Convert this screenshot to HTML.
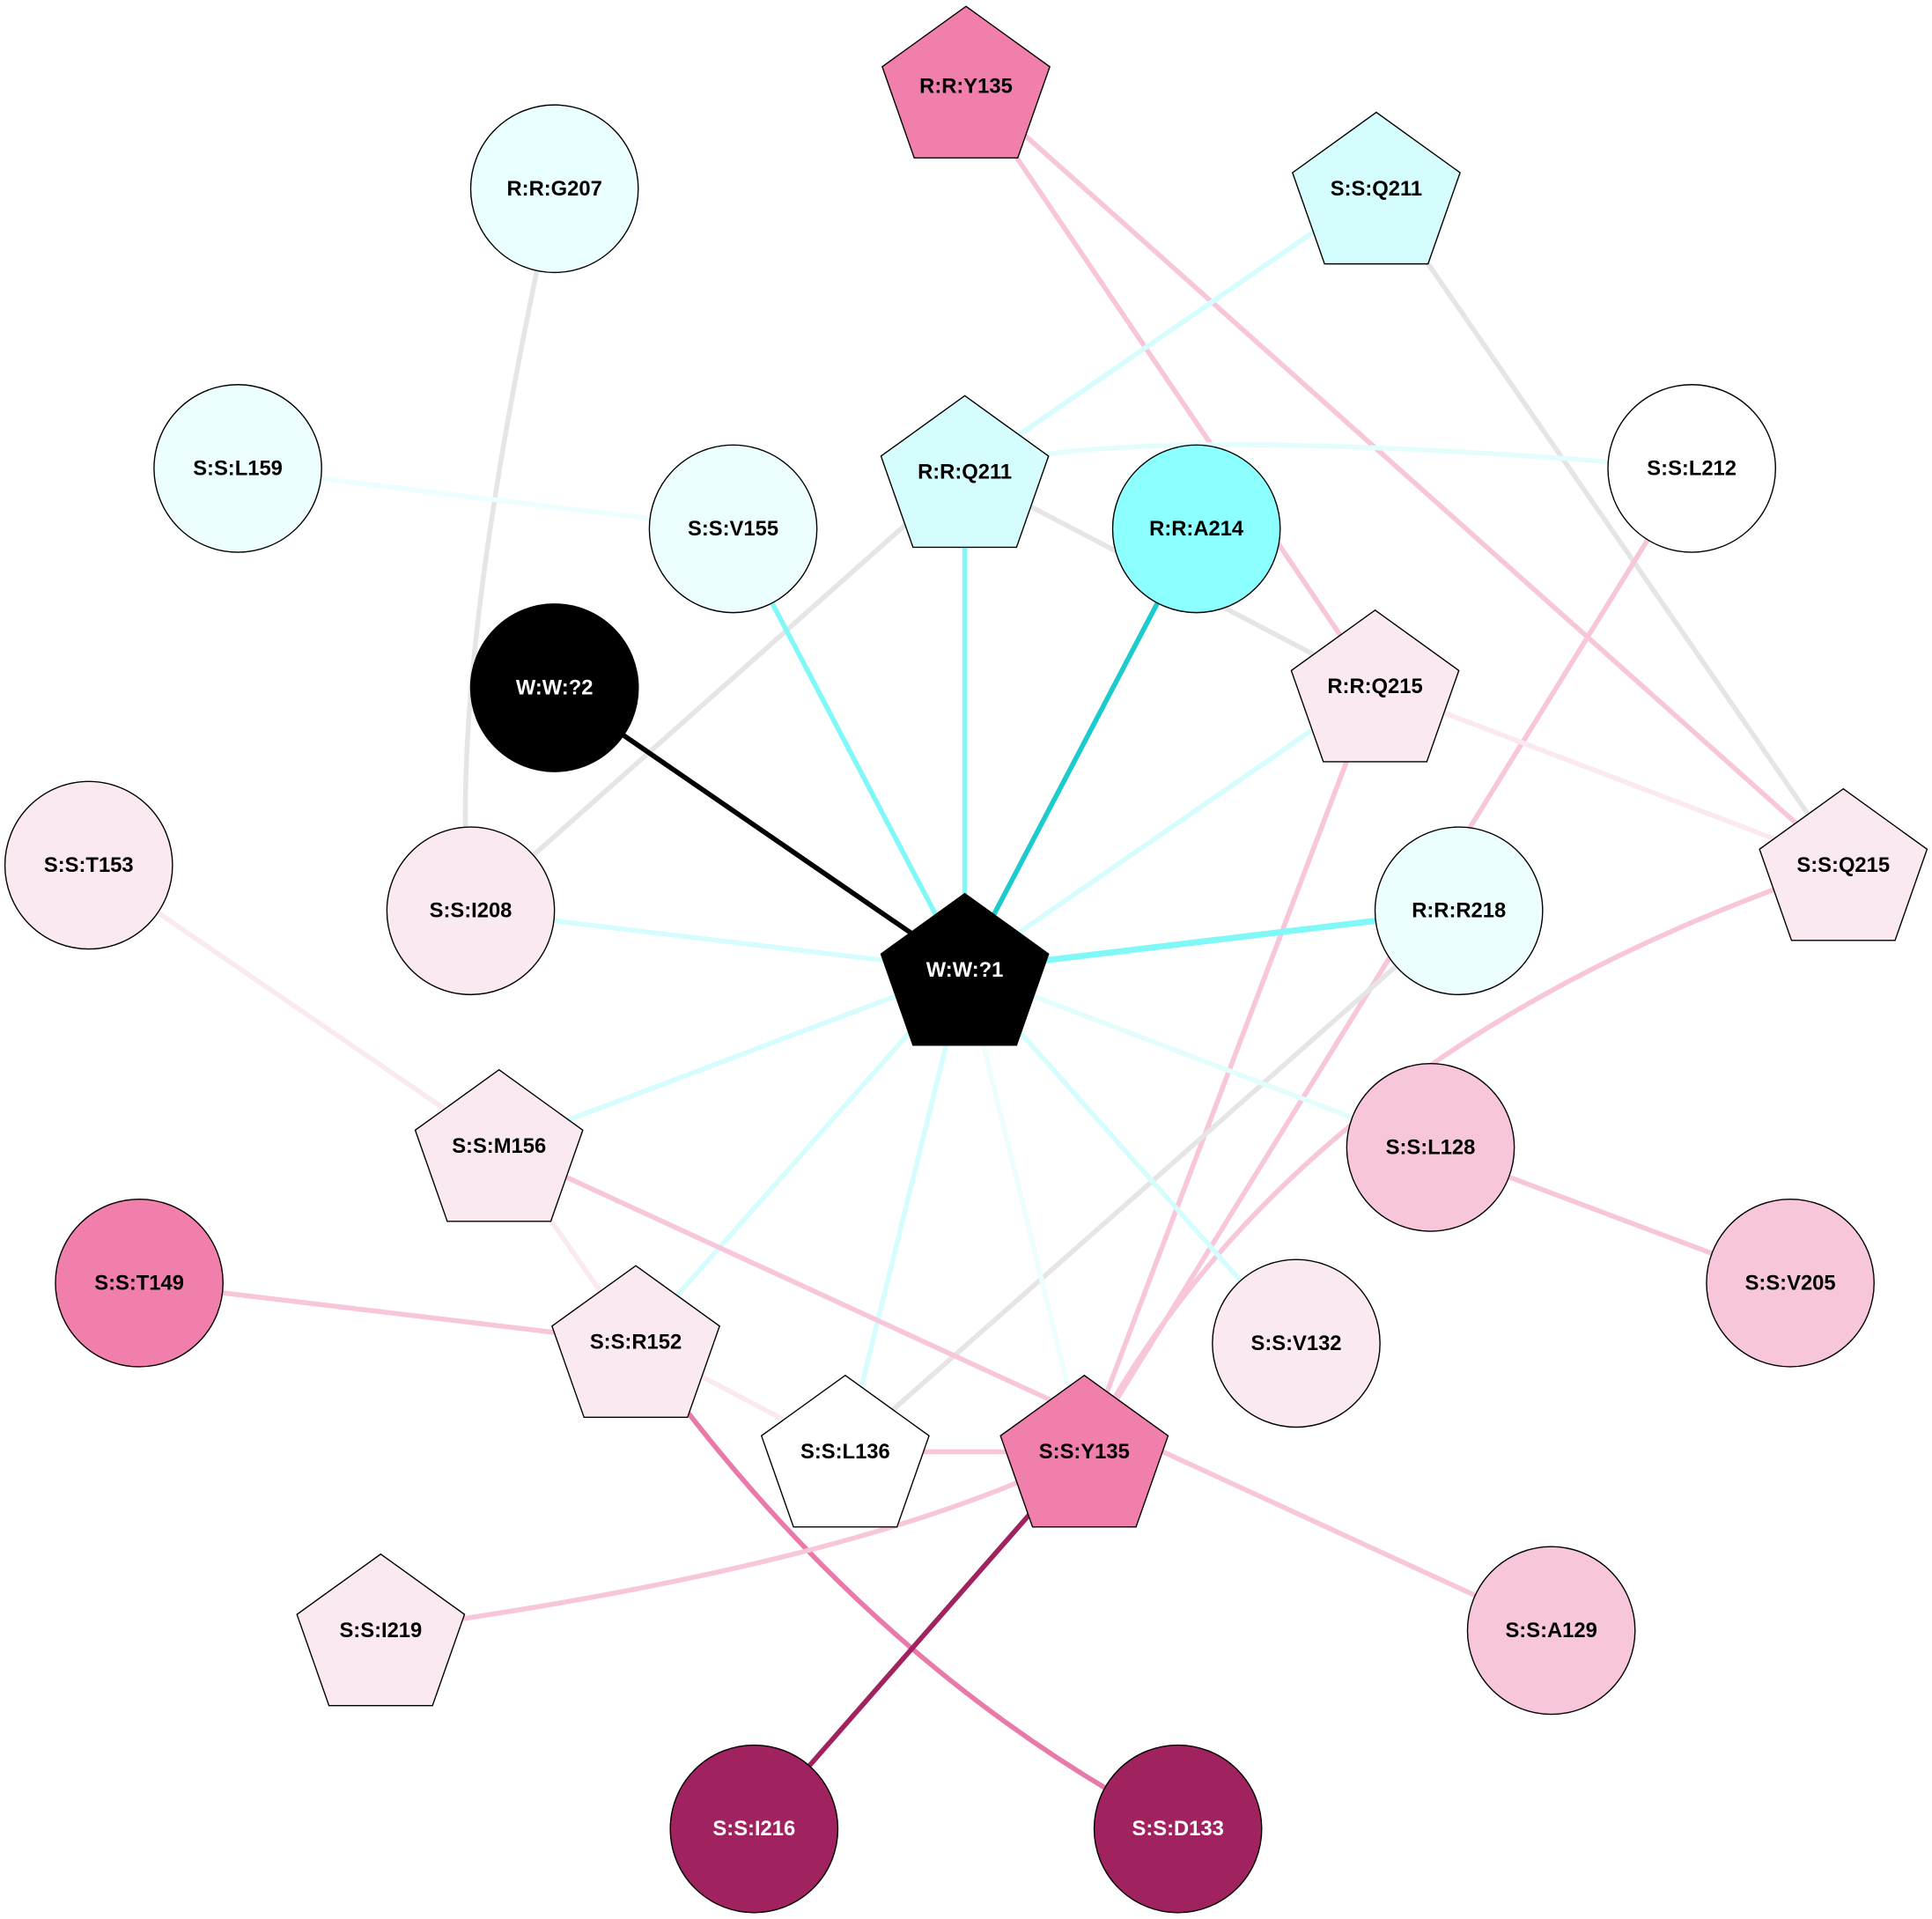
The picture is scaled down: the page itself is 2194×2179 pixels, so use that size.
<!DOCTYPE html>
<html><head><meta charset="utf-8"><style>body{margin:0;background:#fff}svg{display:block}</style></head><body>
<svg width="2194" height="2179" viewBox="0 0 1568 1557" xmlns="http://www.w3.org/2000/svg" font-family="Liberation Sans, Arial, sans-serif" font-weight="bold" font-size="17">
<g fill="none" stroke-width="4">
<line x1="784" y1="67" x2="1116" y2="557" stroke="#f7c6da"/>
<line x1="784" y1="67" x2="1496" y2="702" stroke="#f7c6da"/>
<path d="M450 153 Q360 560 382 739" stroke="#e5e5e5"/>
<line x1="1117" y1="153" x2="783" y2="383" stroke="#d6fdfd"/>
<line x1="1117" y1="153" x2="1496" y2="702" stroke="#e5e5e5"/>
<line x1="193" y1="380" x2="595" y2="429" stroke="#ecfefe"/>
<path d="M783 383 Q900 340 1373 380" stroke="#e3fdfd"/>
<line x1="783" y1="383" x2="783" y2="787" stroke="#80f8f8"/>
<line x1="783" y1="383" x2="382" y2="739" stroke="#e5e5e5"/>
<line x1="783" y1="383" x2="1116" y2="557" stroke="#e5e5e5"/>
<line x1="595" y1="429" x2="783" y2="787" stroke="#80f8f8"/>
<line x1="971" y1="429" x2="783" y2="787" stroke="#1ccbcb"/>
<line x1="450" y1="558" x2="783" y2="787" stroke="#000"/>
<line x1="1373" y1="380" x2="880" y2="1178" stroke="#f7c6da"/>
<line x1="1116" y1="557" x2="783" y2="787" stroke="#d6fdfd"/>
<line x1="1116" y1="557" x2="1496" y2="702" stroke="#fbe9f1"/>
<line x1="1116" y1="557" x2="880" y2="1178" stroke="#f7c6da"/>
<path d="M1496 702 Q1050 850 880 1178" stroke="#f7c6da"/>
<line x1="382" y1="739" x2="783" y2="787" stroke="#d6fdfd"/>
<line x1="1184" y1="739" x2="783" y2="787" stroke="#80f8f8" stroke-width="5"/>
<line x1="1184" y1="739" x2="686" y2="1178" stroke="#e5e5e5"/>
<line x1="72" y1="702" x2="405" y2="930" stroke="#fbe9f1"/>
<line x1="783" y1="787" x2="405" y2="930" stroke="#d6fdfd"/>
<line x1="783" y1="787" x2="516" y2="1089" stroke="#d6fdfd"/>
<line x1="783" y1="787" x2="686" y2="1178" stroke="#d6fdfd"/>
<line x1="783" y1="787" x2="880" y2="1178" stroke="#ecfefe"/>
<line x1="783" y1="787" x2="1052" y2="1090" stroke="#d6fdfd"/>
<line x1="783" y1="787" x2="1161" y2="931" stroke="#e3fdfd"/>
<line x1="405" y1="930" x2="516" y2="1089" stroke="#fbe9f1"/>
<line x1="405" y1="930" x2="1259" y2="1323" stroke="#f7c6da"/>
<line x1="1161" y1="931" x2="1453" y2="1041" stroke="#f7c6da"/>
<line x1="113" y1="1041" x2="516" y2="1089" stroke="#f7c6da"/>
<line x1="516" y1="1089" x2="686" y2="1178" stroke="#fbe9f1"/>
<path d="M516 1089 Q700 1350 956 1484" stroke="#e879a8"/>
<line x1="686" y1="1178" x2="880" y2="1178" stroke="#f7c6da"/>
<path d="M880 1178 Q700 1270 309 1323" stroke="#f7c6da"/>
<line x1="880" y1="1178" x2="612" y2="1484" stroke="#a0225e"/>
</g>
<g stroke="#000" stroke-width="1">
<circle cx="450" cy="153" r="68" fill="#eaffff"/>
<circle cx="193" cy="380" r="68" fill="#ecfefe"/>
<circle cx="595" cy="429" r="68" fill="#ecfefe"/>
<circle cx="971" cy="429" r="68" fill="#8cffff"/>
<circle cx="1373" cy="380" r="68" fill="#fff"/>
<circle cx="450" cy="558" r="68" fill="#000"/>
<circle cx="72" cy="702" r="68" fill="#fbe9f1"/>
<circle cx="382" cy="739" r="68" fill="#fbe9f1"/>
<circle cx="1184" cy="739" r="68" fill="#ecfefe"/>
<circle cx="1161" cy="931" r="68" fill="#f7c6da"/>
<circle cx="113" cy="1041" r="68" fill="#f07fab"/>
<circle cx="1453" cy="1041" r="68" fill="#f7c6da"/>
<circle cx="1052" cy="1090" r="68" fill="#fbe9f1"/>
<circle cx="1259" cy="1323" r="68" fill="#f7c6da"/>
<circle cx="612" cy="1484" r="68" fill="#a0225e"/>
<circle cx="956" cy="1484" r="68" fill="#a0225e"/>
<polygon points="784,5 852,54 826,128 742,128 716,54" fill="#f07fab"/>
<polygon points="1117,91 1185,140 1159,214 1075,214 1049,140" fill="#d6fdfd"/>
<polygon points="783,321 851,370 825,444 741,444 715,370" fill="#d6fdfd"/>
<polygon points="1116,495 1184,544 1158,618 1074,618 1048,544" fill="#fbe9f1"/>
<polygon points="1496,640 1564,689 1538,763 1454,763 1428,689" fill="#fbe9f1"/>
<polygon points="783,725 851,774 825,848 741,848 715,774" fill="#000"/>
<polygon points="405,868 473,917 447,991 363,991 337,917" fill="#fbe9f1"/>
<polygon points="516,1027 584,1076 558,1150 474,1150 448,1076" fill="#fbe9f1"/>
<polygon points="686,1116 754,1165 728,1239 644,1239 618,1165" fill="#fff"/>
<polygon points="880,1116 948,1165 922,1239 838,1239 812,1165" fill="#f07fab"/>
<polygon points="309,1261 377,1310 351,1384 267,1384 241,1310" fill="#fbe9f1"/>
</g>
<g text-anchor="middle" dominant-baseline="central" fill="#000">
<text x="784" y="70">R:R:Y135</text>
<text x="450" y="153">R:R:G207</text>
<text x="1117" y="153">S:S:Q211</text>
<text x="193" y="380">S:S:L159</text>
<text x="595" y="429">S:S:V155</text>
<text x="783" y="383">R:R:Q211</text>
<text x="971" y="429">R:R:A214</text>
<text x="1373" y="380">S:S:L212</text>
<text x="450" y="558" fill="#fff">W:W:?2</text>
<text x="1116" y="557">R:R:Q215</text>
<text x="72" y="702">S:S:T153</text>
<text x="382" y="739">S:S:I208</text>
<text x="783" y="787" fill="#fff">W:W:?1</text>
<text x="1184" y="739">R:R:R218</text>
<text x="1496" y="702">S:S:Q215</text>
<text x="405" y="930">S:S:M156</text>
<text x="1161" y="931">S:S:L128</text>
<text x="113" y="1041">S:S:T149</text>
<text x="1453" y="1041">S:S:V205</text>
<text x="516" y="1089">S:S:R152</text>
<text x="1052" y="1090">S:S:V132</text>
<text x="686" y="1178">S:S:L136</text>
<text x="880" y="1178">S:S:Y135</text>
<text x="309" y="1323">S:S:I219</text>
<text x="1259" y="1323">S:S:A129</text>
<text x="612" y="1484" fill="#fff">S:S:I216</text>
<text x="956" y="1484" fill="#fff">S:S:D133</text>
</g>
</svg>
</body></html>
